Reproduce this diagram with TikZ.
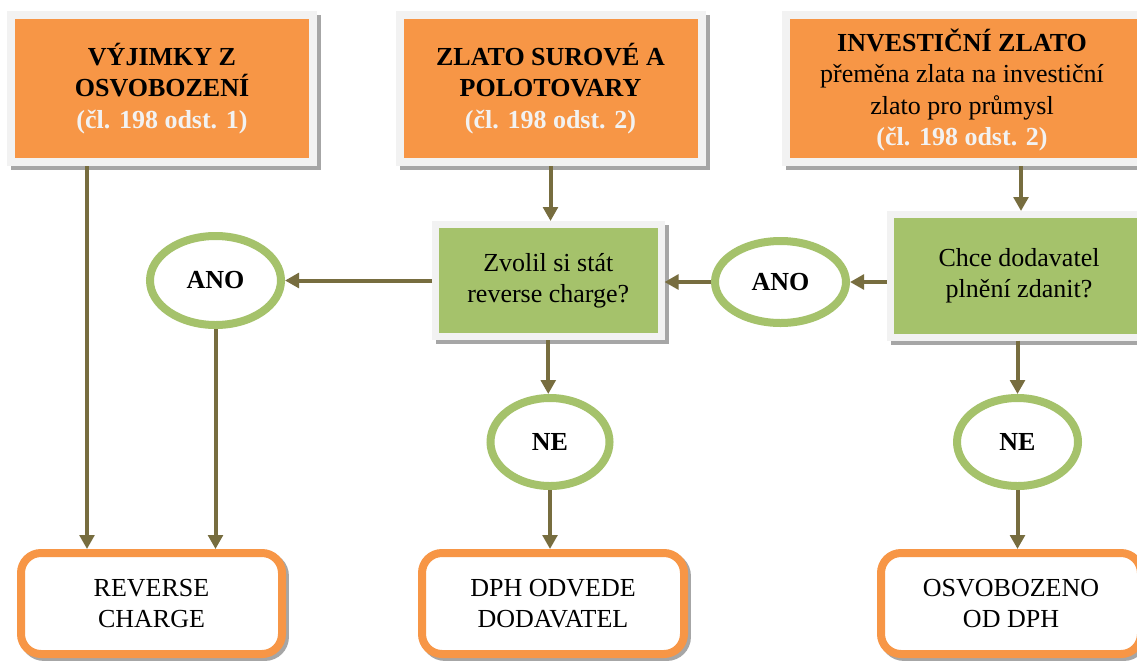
\documentclass[tikz,border=0pt]{standalone}
\usepackage{fontspec}
\setmainfont{Liberation Serif}
\usetikzlibrary{shapes.geometric,arrows.meta,backgrounds}
\definecolor{orng}{HTML}{F79646}
\definecolor{lgray}{HTML}{F2F2F2}
\definecolor{shgray}{HTML}{A6A6A6}
\definecolor{grn}{HTML}{A5C26B}
\definecolor{olv}{HTML}{776D3F}
\newcommand\dfont{\fontsize{19.5}{23.6}\selectfont}
\begin{document}
\begin{tikzpicture}[x=0.75pt,y=-0.75pt,
  topbox/.style={rectangle, fill=orng, draw=lgray, line width=6pt, inner sep=0pt, align=center, font=\dfont\bfseries},
  qbox/.style={rectangle, fill=grn, draw=lgray, line width=5.25pt, inner sep=0pt, align=center, font=\dfont},
  ans/.style={ellipse, fill=white, draw=grn, line width=6pt, inner sep=0pt, font=\dfont\bfseries},
  endbox/.style={rectangle, rounded corners=15pt, fill=white, draw=orng, line width=6pt, inner sep=0pt, align=center, font=\dfont},
  txt/.style={inner sep=0pt, align=center, font=\dfont},
  arr/.style={draw=olv, line width=3pt, -{Triangle[length=10.5pt,width=11pt]}}
]
\useasboundingbox (0,0) rectangle (1137,661);
\clip (0,0) rectangle (1137,661);

% top boxes
\node[topbox, minimum width=302*0.75pt, minimum height=147*0.75pt] (b1) at (162,88.5)
  {VÝJIMKY Z\\OSVOBOZENÍ\\\textcolor{lgray}{(čl. 198 odst. 1)}};
\node[topbox, minimum width=302*0.75pt, minimum height=147*0.75pt] (b2) at (550.5,88.5)
  {ZLATO SUROVÉ A\\POLOTOVARY\\\textcolor{lgray}{(čl. 198 odst. 2)}};
\node[topbox, minimum width=370*0.75pt, minimum height=147*0.75pt] (b3) at (971,88.5) {};
\node[txt] (t3) at (962,90)
  {\textbf{INVESTIČNÍ ZLATO}\\přeměna zlata na investiční\\zlato pro průmysl\\\textbf{\textcolor{lgray}{(čl. 198 odst. 2)}}};

% question boxes
\node[qbox, minimum width=225.5*0.75pt, minimum height=112*0.75pt] (zv) at (548.25,280.5)
  {Zvolil si stát\\reverse charge?};
\node[qbox, minimum width=258*0.75pt, minimum height=122.5*0.75pt] (ch) at (1019,275.75)
  {Chce dodavatel\\plnění zdanit?};

% answer ellipses
\node[ans, minimum width=131*0.75pt, minimum height=89*0.75pt] (anol) at (215.5,280.5) {ANO};
\node[ans, minimum width=131*0.75pt, minimum height=82*0.75pt] (anor) at (780.5,282) {ANO};
\node[ans, minimum width=119*0.75pt, minimum height=88*0.75pt] (nem) at (550,442) {NE};
\node[ans, minimum width=121*0.75pt, minimum height=88*0.75pt] (ner) at (1017.5,442) {NE};

% result boxes
\node[endbox, minimum width=261*0.75pt, minimum height=101*0.75pt] (rc) at (151.5,603.5)
  {REVERSE\\CHARGE};
\node[endbox, minimum width=262*0.75pt, minimum height=101*0.75pt] (dph) at (553,603.5)
  {DPH ODVEDE\\DODAVATEL};
\node[endbox, minimum width=260*0.75pt, minimum height=101*0.75pt] (osv) at (1011,603.5)
  {OSVOBOZENO\\OD DPH};

% background and shadows
\begin{scope}[on background layer]
  \clip (0,0) rectangle (1137,661);
  \fill[white] (0,0) rectangle (1137,661);
  \foreach \n in {b1,b2,b3,zv,ch}
    \fill[shgray] ([shift={(3pt,-3pt)}]\n.south west) rectangle ([shift={(3pt,-3pt)}]\n.north east);
  \foreach \n in {rc,dph,osv}
    \draw[shgray, line width=6pt, rounded corners=15pt] ([shift={(5.2pt,0.8pt)}]\n.south west) rectangle ([shift={(-0.8pt,-5.2pt)}]\n.north east);
\end{scope}

% helper coordinates
\coordinate (x87) at (87,0);
\coordinate (x1021) at (1021,0);

% connectors
\draw[arr] (b1.south -| x87) -- (rc.north -| x87);
\draw[arr] (anol.south) -- (anol.south |- rc.north);
\draw[arr] (zv.west) -- (anol.east);
\draw[arr] (b2.south) -- (b2.south |- zv.north);
\draw[arr] (zv.south) -- (zv.south |- nem.north);
\draw[arr] (nem.south) -- (nem.south |- dph.north);
\draw[arr] (ch.west |- anor.east) -- (anor.east);
\draw[arr] (anor.west) -- (anor.west -| zv.east);
\draw[arr] (b3.south -| x1021) -- (ch.north -| x1021);
\draw[arr] (ch.south -| ner) -- (ner.north);
\draw[arr] (ner.south) -- (ner.south |- osv.north);
\end{tikzpicture}
\end{document}
